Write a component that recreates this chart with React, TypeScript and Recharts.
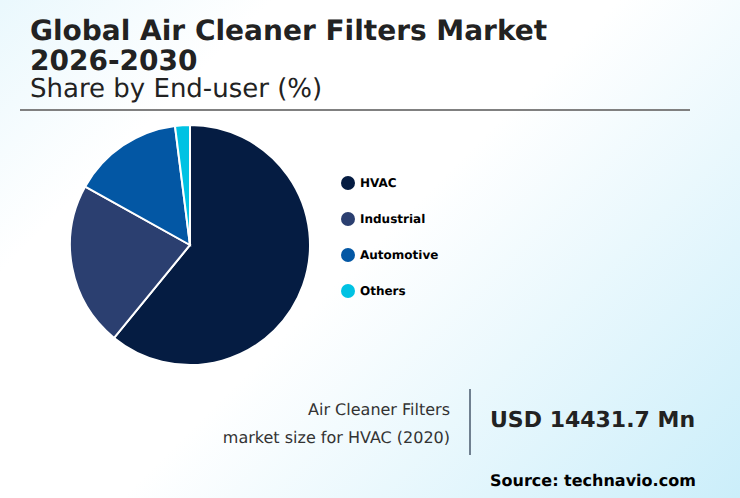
import React from "react";
import { PieChart, Pie, Cell } from "recharts";

const categories = ["HVAC", "Industrial", "Automotive", "Others"];
const shares = [60.9, 22.2, 14.9, 2.0];
const colors = ["#051c42", "#2b3f70", "#0357a4", "#00c2e3"];
const titleLines = ["Global Air Cleaner Filters Market", "2026-2030"];
const subtitle = "Share by End-user (%)";
const sizeLabel = ["Air Cleaner Filters", "market size for HVAC (2020)"];
const sizeValue = "USD 14431.7 Mn";
const source = "Source: technavio.com";

const font = "'DejaVu Sans', sans-serif";
const data = categories.map((name, i) => ({ name, value: shares[i] }));

function abs(left: number, top: number, extra: React.CSSProperties = {}): React.CSSProperties {
  return { position: "absolute", left, top, whiteSpace: "nowrap", ...extra };
}

export default function App() {
  return (
    <div
      style={{
        position: "fixed",
        left: 0,
        top: 0,
        width: 740,
        height: 498,
        overflow: "hidden",
        fontFamily: font,
        textRendering: "geometricPrecision",
        background: "linear-gradient(135deg, #eaf8fd 0%, #ffffff 22%, #ffffff 50%, #cbeefa 100%)",
      }}
    >
      {titleLines.map((t, i) => (
        <div key={t} style={abs(30, 16 + i * 30, { fontSize: 28, fontWeight: 700, color: "#222", lineHeight: "30px" })}>
          {t}
        </div>
      ))}
      <div style={abs(30, 76, { fontSize: 26, color: "#222", lineHeight: "26px" })}>{subtitle}</div>
      <div style={abs(20, 109, { width: 670, height: 2, background: "#808080" })} />

      <div style={abs(0, 100)}>
        <PieChart width={380} height={290} margin={{ top: 0, right: 0, bottom: 0, left: 0 }}>
          <Pie
            data={data}
            dataKey="value"
            nameKey="name"
            cx={190}
            cy={145}
            outerRadius={120}
            startAngle={90}
            endAngle={-270}
            stroke="#ffffff"
            strokeWidth={2}
            isAnimationActive={false}
          >
            {data.map((d, i) => (
              <Cell key={d.name} fill={colors[i]} />
            ))}
          </Pie>
        </PieChart>
      </div>

      {categories.map((c, i) => (
        <div key={c} style={abs(341, 175 + i * 36, { display: "flex", alignItems: "center", height: 15 })}>
          <span style={{ width: 14, height: 14, borderRadius: "50%", background: colors[i], marginRight: 5 }} />
          <span style={{ fontSize: 12, fontWeight: 700, color: "#000" }}>{c}</span>
        </div>
      ))}

      {sizeLabel.map((t, i) => (
        <div key={t} style={{ position: "absolute", right: 290, top: 400 + i * 28, whiteSpace: "nowrap", fontSize: 16, color: "#333", lineHeight: "20px" }}>
          {t}
        </div>
      ))}
      <div style={abs(469, 389, { width: 2, height: 66, background: "#708090" })} />
      <div style={abs(490, 407, { fontSize: 22, fontWeight: 700, color: "#222", lineHeight: "28px" })}>{sizeValue}</div>
      <div style={abs(490, 471, { fontSize: 16, fontWeight: 700, color: "#000", lineHeight: "20px" })}>{source}</div>
    </div>
  );
}
